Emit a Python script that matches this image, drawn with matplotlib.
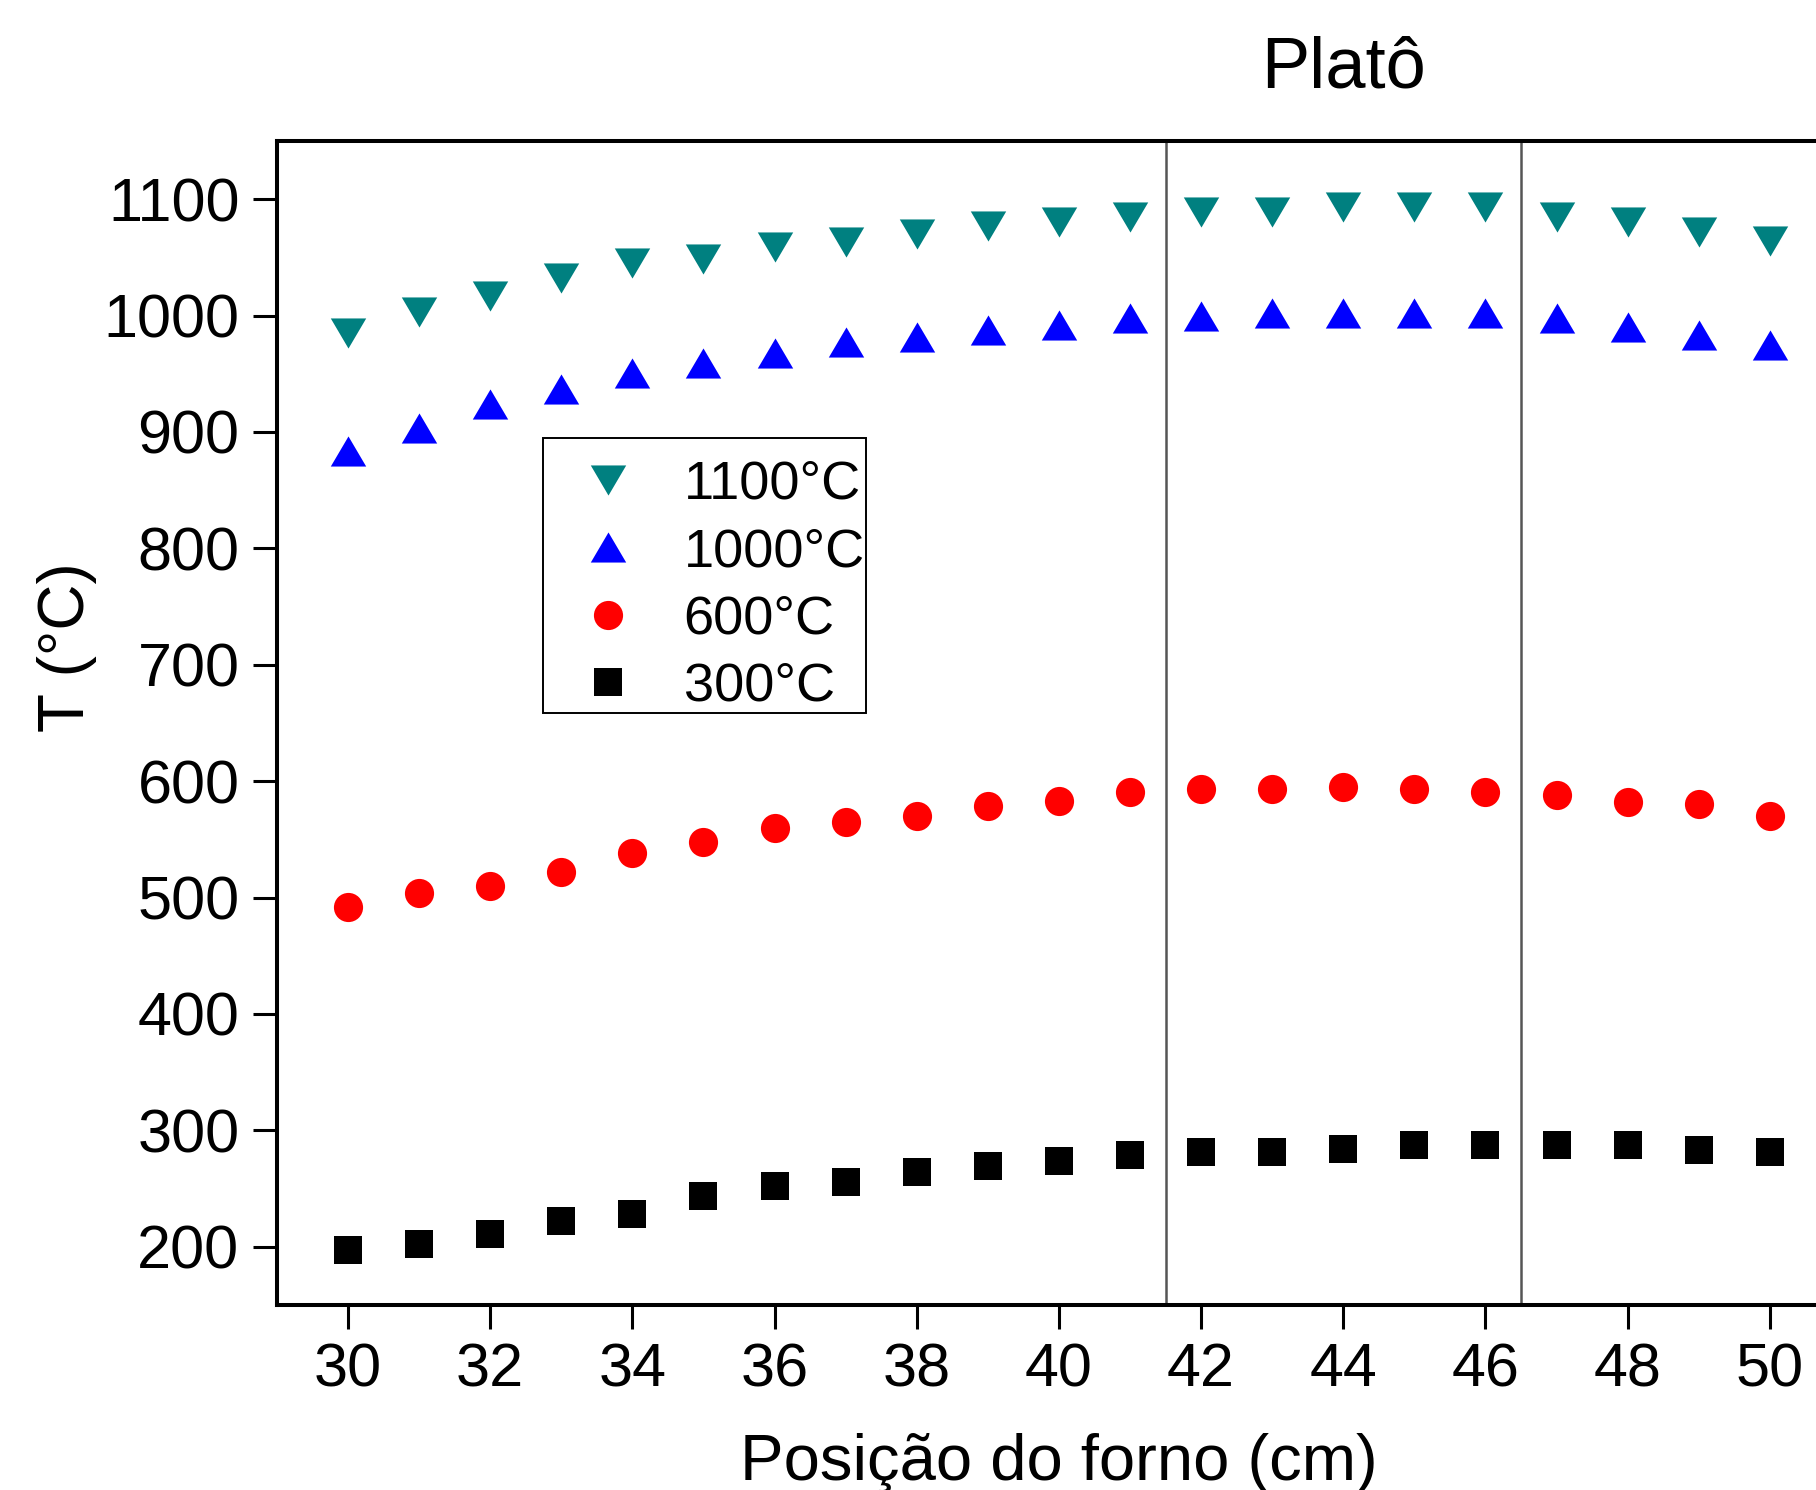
import matplotlib
matplotlib.use("Agg")
import matplotlib.pyplot as plt
from matplotlib import transforms
from matplotlib.patches import Rectangle

plt.rcParams['font.family'] = ['Liberation Sans', 'DejaVu Sans']

# ---- data ----
positions = list(range(30, 51))
t1100 = [985, 1003, 1017, 1032, 1045, 1049, 1059, 1063, 1070, 1077, 1080, 1085,
         1089, 1089, 1093, 1093, 1093, 1085, 1080, 1072, 1064]
t1000 = [884, 903, 924, 937, 951, 959, 968, 977, 982, 988, 992, 998,
         1000, 1002, 1002, 1002, 1002, 998, 990, 983, 975]
t600 = [492, 504, 510, 522, 538, 548, 560, 565, 570, 579, 583, 591,
        593, 593, 595, 593, 591, 588, 582, 580, 570]
t300 = [197, 202, 211, 222, 228, 244, 252, 256, 264, 269, 274, 279,
        281, 281, 284, 287, 287, 287, 287, 283, 281]
series_labels = ['1100°C', '1000°C', '600°C', '300°C']
plateau_bounds = [41.5, 46.5]
plateau_label = 'Platô'
xticks = list(range(30, 51, 2))
yticks = list(range(200, 1101, 100))

fig = plt.figure(figsize=(18.16, 14.90), dpi=100)
ax = fig.add_axes([0.1525, 0.1242, 0.8612, 0.7812])

tri_w = 0.85
tri_up = [(-1, -tri_w), (1, -tri_w), (0, tri_w), (-1, -tri_w)]
tri_dn = [(-1, tri_w), (1, tri_w), (0, -tri_w), (-1, tri_w)]

h1, = ax.plot(positions, t1100, linestyle='none', marker=tri_dn, markersize=25.5,
              color='#008080', markeredgewidth=0)
h2, = ax.plot(positions, t1000, linestyle='none', marker=tri_up, markersize=25.5,
              color='#0000FF', markeredgewidth=0)
h3, = ax.plot(positions, t600, linestyle='none', marker='o', markersize=21,
              color='#FF0000', markeredgewidth=0)
h4, = ax.plot(positions, t300, linestyle='none', marker='s', markersize=19.5,
              color='black', markeredgewidth=0)

for xb in plateau_bounds:
    ax.axvline(xb, color='#555555', linewidth=1.8, zorder=1)

ax.set_xlim(29, 51)
ax.set_ylim(150, 1150)
ax.set_xticks(xticks)
ax.set_yticks(yticks)
ax.tick_params(axis='both', which='major', direction='out', length=17, width=2.2,
               labelsize=44, pad=10, top=False, right=False)
for sp in ax.spines.values():
    sp.set_linewidth(2.9)

ax.set_xlabel('Posição do forno (cm)', fontsize=47, labelpad=24)
ax.set_ylabel('T (°C)', fontsize=46, labelpad=10)
ax.yaxis.set_label_coords(-0.115, 0.565)

trans = transforms.blended_transform_factory(ax.transData, fig.transFigure)
ax.text(sum(plateau_bounds) / 2, 0.9537, plateau_label, transform=trans,
        ha='center', va='center', fontsize=52)

# legend (frame drawn separately so the text can touch the border as in the original)
leg = ax.legend([h1, h2, h3, h4], series_labels, loc='upper left',
                bbox_to_anchor=(0.1803, 0.726), borderaxespad=0, fontsize=39,
                frameon=False, borderpad=0, handlelength=1.8, handletextpad=0.5,
                labelspacing=0.32, markerscale=1.0)
leg.set_zorder(5)
frame = Rectangle((0.1701, 0.5086), 0.3766 - 0.1701, 0.7448 - 0.5086,
                  transform=ax.transAxes, facecolor='white', edgecolor='black',
                  linewidth=1.4, zorder=4)
ax.add_patch(frame)

fig.savefig('out.png', dpi=100)
